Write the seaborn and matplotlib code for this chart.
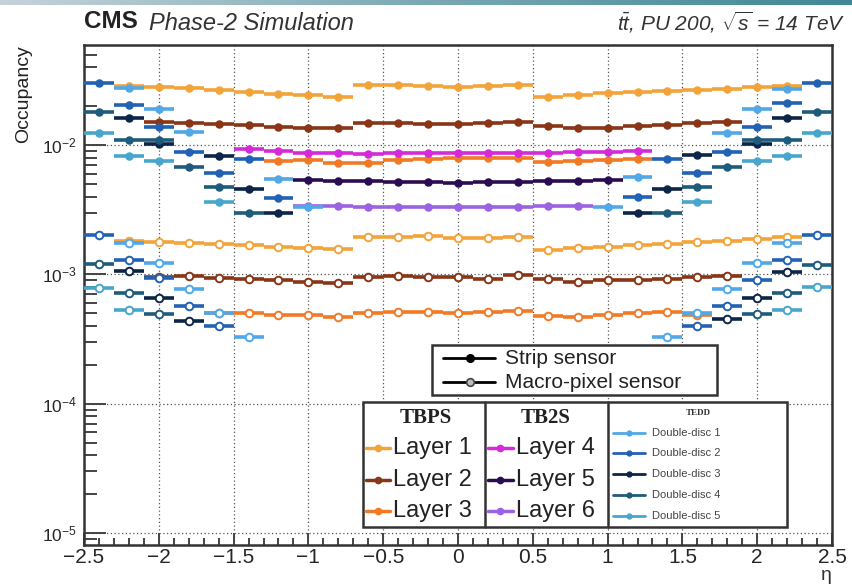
import numpy as np
import matplotlib
matplotlib.use("Agg")
import matplotlib.pyplot as plt
from matplotlib.ticker import FixedLocator, FuncFormatter, LogLocator, NullFormatter
from matplotlib.patches import Rectangle
from matplotlib.colors import LinearSegmentedColormap
import seaborn as sns

# ---------------- data ----------------
ETA_L1 = [-2.2, -2.0, -1.8, -1.6, -1.4, -1.2, -1.0, -0.8, -0.6, -0.4, -0.2, 0.0,
          0.2, 0.4, 0.6, 0.8, 1.0, 1.2, 1.4, 1.6, 1.8, 2.0, 2.2]
L1_STRIP = [0.0286, 0.0281, 0.0276, 0.0266, 0.0257, 0.0248, 0.0243, 0.0235,
            0.0291, 0.0291, 0.0286, 0.0281, 0.0286, 0.0291,
            0.0235, 0.0243, 0.0252, 0.0257, 0.0261, 0.0266, 0.0271, 0.0281, 0.0286]
L1_MACRO = [0.00180, 0.00178, 0.00175, 0.00172, 0.00169, 0.00163, 0.00160, 0.00157,
            0.00195, 0.00195, 0.00198, 0.00191, 0.00191, 0.00195,
            0.00155, 0.00160, 0.00163, 0.00169, 0.00172, 0.00178, 0.00181, 0.00188, 0.00195]

ETA_L2 = [-2.0, -1.8, -1.6, -1.4, -1.2, -1.0, -0.8, -0.6, -0.4, -0.2, 0.0,
          0.2, 0.4, 0.6, 0.8, 1.0, 1.2, 1.4, 1.6, 1.8]
L2_STRIP = [0.0151, 0.0148, 0.0145, 0.0143, 0.0138, 0.0135, 0.0135,
            0.0148, 0.0148, 0.0145, 0.0145, 0.0148, 0.0151,
            0.0140, 0.0135, 0.0135, 0.0140, 0.0143, 0.0148, 0.0151]
L2_MACRO = [0.00095, 0.00097, 0.00094, 0.00092, 0.00091, 0.00088, 0.00086,
            0.00095, 0.00097, 0.00095, 0.00095, 0.00092, 0.00099,
            0.00092, 0.00087, 0.00091, 0.00091, 0.00092, 0.00095, 0.00097]

ETA_L3_STRIP = [-1.2, -1.0, -0.8, -0.6, -0.4, -0.2, 0.0, 0.2, 0.4, 0.6, 0.8, 1.0, 1.2]
L3_STRIP = [0.0075, 0.0076, 0.0073, 0.0073, 0.0076, 0.0078, 0.0079, 0.0079, 0.0079,
            0.0074, 0.0075, 0.0077, 0.0078]
ETA_L3_MACRO = [-1.6, -1.4, -1.2, -1.0, -0.8, -0.6, -0.4, -0.2, 0.0, 0.2, 0.4,
                0.6, 0.8, 1.0, 1.2, 1.4, 1.6]
L3_MACRO = [0.000504, 0.000504, 0.000486, 0.000486, 0.000469, 0.000504, 0.000513,
            0.000513, 0.000504, 0.000513, 0.000522, 0.000477, 0.000469, 0.000486,
            0.000504, 0.000513, 0.000486]

ETA_L4 = [-1.4, -1.2, -1.0, -0.8, -0.6, -0.4, -0.2, 0.0, 0.2, 0.4, 0.6, 0.8, 1.0, 1.2]
L4_STRIP = [0.0093, 0.0090, 0.0087, 0.0086, 0.0085, 0.0086, 0.0086, 0.0086, 0.0087,
            0.0087, 0.0087, 0.0088, 0.0089, 0.0090]
ETA_L5 = [-1.0, -0.8, -0.6, -0.4, -0.2, 0.0, 0.2, 0.4, 0.6, 0.8, 1.0]
L5_STRIP = [0.0054, 0.0053, 0.0053, 0.0052, 0.0052, 0.0051, 0.0052, 0.0052, 0.0053,
            0.0053, 0.0054]
ETA_L6 = [-1.0, -0.8, -0.6, -0.4, -0.2, 0.0, 0.2, 0.4, 0.6, 0.8]
L6_STRIP = [0.0034, 0.0034, 0.0033, 0.0033, 0.0033, 0.0033, 0.0033, 0.0033, 0.0034, 0.0034]

# TEDD double discs, strip sensors
ETA_D1 = [-2.2, -2.0, -1.8, -1.2, -1.0, 1.0, 1.2, 1.8, 2.0, 2.2]
D1_STRIP = [0.0276, 0.019, 0.0126, 0.0055, 0.0033, 0.0033, 0.0057, 0.0124, 0.019, 0.027]
ETA_D2 = [-2.4, -2.2, -2.0, -1.8, -1.6, -1.4, -1.2, 1.2, 1.4, 1.6, 1.8, 2.0, 2.2, 2.4]
D2_STRIP = [0.030, 0.0204, 0.0138, 0.0088, 0.0061, 0.0078, 0.0039,
            0.0040, 0.0078, 0.0061, 0.0088, 0.0138, 0.021, 0.030]
ETA_D3 = [-2.2, -2.0, -1.6, -1.4, -1.2, 1.2, 1.4, 1.6, 2.0, 2.2]
D3_STRIP = [0.0162, 0.0102, 0.0082, 0.0046, 0.0030, 0.0030, 0.0046, 0.0084, 0.0102, 0.0162]
ETA_D4 = [-2.4, -2.2, -2.0, -1.8, -1.6, -1.4, 1.4, 1.6, 1.8, 2.0, 2.2, 2.4]
D4_STRIP = [0.018, 0.011, 0.011, 0.0068, 0.0047, 0.0030,
            0.0030, 0.0047, 0.0068, 0.011, 0.011, 0.018]
ETA_D5 = [-2.4, -2.2, -2.0, -1.6, 1.6, 2.0, 2.2, 2.4]
D5_STRIP = [0.0124, 0.0082, 0.0075, 0.0036, 0.0036, 0.0075, 0.0082, 0.0124]

# TEDD double discs, macro-pixel sensors
ETA_M1 = [-2.2, -2.0, -1.8, -1.6, -1.4, 1.4, 1.6, 1.8, 2.0, 2.2]
D1_MACRO = [0.00175, 0.00122, 0.00077, 0.00050, 0.00033,
            0.00033, 0.00050, 0.00077, 0.00122, 0.00175]
ETA_M2 = [-2.4, -2.2, -2.0, -1.8, -1.6, 1.6, 1.8, 2.0, 2.2, 2.4]
D2_MACRO = [0.0020, 0.0013, 0.00093, 0.00057, 0.00040,
            0.00040, 0.00057, 0.00090, 0.0013, 0.0020]
ETA_M3 = [-2.2, -2.0, -1.8, 1.8, 2.0, 2.2]
D3_MACRO = [0.00107, 0.00066, 0.00044, 0.00045, 0.00066, 0.00105]
ETA_M4 = [-2.4, -2.2, -2.0, 2.0, 2.2, 2.4]
D4_MACRO = [0.0012, 0.00072, 0.00049, 0.00049, 0.00072, 0.00118]
ETA_M5 = [-2.4, -2.2, 2.2, 2.4]
D5_MACRO = [0.00079, 0.00053, 0.00053, 0.0008]

LAYER_NAMES = ["Layer 1", "Layer 2", "Layer 3", "Layer 4", "Layer 5", "Layer 6"]
DISC_NAMES = ["Double-disc 1", "Double-disc 2", "Double-disc 3", "Double-disc 4", "Double-disc 5"]
X_TICKS = [-2.5, -2.0, -1.5, -1.0, -0.5, 0.0, 0.5, 1.0, 1.5, 2.0, 2.5]

C_LAYER = ["#f2a33a", "#8a3516", "#f07a26", "#d42ad8", "#2a0c52", "#9b62e2"]
C_DISC = ["#52a8e6", "#2262b4", "#0c2548", "#1f5c7c", "#48a6cc"]

# ---------------- style ----------------
sns.set_style("white")
plt.rcParams['font.family'] = ['Liberation Sans', 'DejaVu Sans']
plt.rcParams['mathtext.fontset'] = 'custom'
plt.rcParams['mathtext.rm'] = 'Liberation Sans'
plt.rcParams['mathtext.it'] = 'Liberation Sans:italic'
plt.rcParams['mathtext.bf'] = 'Liberation Sans:bold'

W, H = 852, 586
fig = plt.figure(figsize=(W / 100, H / 100), dpi=100)
fig.patch.set_facecolor('white')

ax = fig.add_axes([84 / W, 1 - 545 / H, 748 / W, 500 / H])
ax.set_yscale('log')
ax.set_xlim(-2.5, 2.5)
ax.set_ylim(8.1e-6, 0.0593)


def draw(eta, vals, color, filled, z):
    ax.errorbar(eta, vals, xerr=0.1, fmt='none', ecolor=color, elinewidth=2.6,
                capsize=0, zorder=z)
    sns.scatterplot(x=eta, y=vals, ax=ax, marker='o',
                    color=(color if filled else 'white'), edgecolor=color,
                    linewidth=1.4, s=(22 if filled else 30), zorder=z + 0.5,
                    legend=False)


# barrel layers
draw(ETA_L1, L1_STRIP, C_LAYER[0], True, 3)
draw(ETA_L2, L2_STRIP, C_LAYER[1], True, 3)
draw(ETA_L3_STRIP, L3_STRIP, C_LAYER[2], True, 3)
draw(ETA_L4, L4_STRIP, C_LAYER[3], True, 3)
draw(ETA_L5, L5_STRIP, C_LAYER[4], True, 3)
draw(ETA_L6, L6_STRIP, C_LAYER[5], True, 3)
draw(ETA_L1, L1_MACRO, C_LAYER[0], False, 3)
draw(ETA_L2, L2_MACRO, C_LAYER[1], False, 3)
draw(ETA_L3_MACRO, L3_MACRO, C_LAYER[2], False, 3)

# endcap discs
for e, v, c in zip([ETA_D1, ETA_D2, ETA_D3, ETA_D4, ETA_D5],
                   [D1_STRIP, D2_STRIP, D3_STRIP, D4_STRIP, D5_STRIP], C_DISC):
    draw(e, v, c, True, 5)
for e, v, c in zip([ETA_M1, ETA_M2, ETA_M3, ETA_M4, ETA_M5],
                   [D1_MACRO, D2_MACRO, D3_MACRO, D4_MACRO, D5_MACRO], C_DISC):
    draw(e, v, c, False, 5)

# axes styling
ax.xaxis.set_major_locator(FixedLocator(X_TICKS))
ax.xaxis.set_minor_locator(FixedLocator(np.round(np.arange(-2.5, 2.501, 0.1), 2)))
ax.xaxis.set_major_formatter(FuncFormatter(lambda v, p: ('%g' % v).replace('-', '\u2212')))
ax.yaxis.set_major_locator(LogLocator(base=10, numticks=20))
ax.yaxis.set_minor_locator(LogLocator(base=10, subs=np.arange(2, 10), numticks=20))
ax.yaxis.set_minor_formatter(NullFormatter())
ax.grid(True, which='major', linestyle=(0, (1, 2)), color='#555555', linewidth=0.9, zorder=0)
ax.set_axisbelow(True)
ax.tick_params(axis='both', which='both', direction='in', top=False, right=False,
               left=True, bottom=True, color='#444444', width=1.4)
ax.tick_params(axis='y', which='major', length=16, labelsize=12.5, pad=5)
ax.tick_params(axis='y', which='minor', length=9)
ax.tick_params(axis='x', which='major', length=9, labelsize=15, pad=2)
ax.tick_params(axis='x', which='minor', length=5)
for s in ax.spines.values():
    s.set_linewidth(1.8)
    s.set_color('#333333')
ax.set_ylabel('Occupancy', loc='top', fontsize=14, color='#222222', labelpad=7)
ax.set_xlabel('')

# header texts
fig.text(84 / W, 1 - 22 / H, 'CMS', fontsize=17.5, fontweight='bold', va='center',
         color='#222222')
fig.text(149 / W, 1 - 23 / H, 'Phase-2 Simulation', fontsize=17, style='italic',
         va='center', color='#333333')
fig.text(845 / W, 1 - 22 / H, r'$t\bar{t}$, PU 200, $\sqrt{s}$ = 14 TeV', fontsize=15,
         style='italic', ha='right', va='center', color='#333333')
fig.text(826 / W, 1 - 576 / H, '\u03b7', fontsize=14, ha='center', va='center',
         color='#333333')

# top decorative band
band = fig.add_axes([0, 1 - 5 / H, 1, 5 / H])
cmap = LinearSegmentedColormap.from_list('b', ['#c5d3d9', '#7aa9b3', '#3f8894'])
band.imshow(np.linspace(0, 1, 256)[None, :], aspect='auto', cmap=cmap)
band.axis('off')

# ---------------- legends (overlay in pixel coords) ----------------
ov = fig.add_axes([0, 0, 1, 1], zorder=10)
ov.set_xlim(0, W)
ov.set_ylim(H, 0)
ov.axis('off')
ov.patch.set_alpha(0)

# sensor legend
ov.add_patch(Rectangle((432, 345), 285, 50, facecolor='white', edgecolor='#333333', lw=1.8))
ov.plot([443, 495], [358, 358], color='black', lw=2)
ov.plot([470], [358], 'o', ms=5.5, color='black')
ov.text(505, 358, 'Strip sensor', fontsize=15, va='center', color='#222222')
ov.plot([443, 495], [382, 382], color='black', lw=2)
ov.plot([470], [382], 'o', ms=5.5, mfc='#bbbbbb', mec='#444444', mew=1.2)
ov.text(505, 382, 'Macro-pixel sensor', fontsize=15, va='center', color='#222222')

# detector legend
ov.add_patch(Rectangle((363, 402), 424, 125, facecolor='white', edgecolor='#333333', lw=1.8))
ov.plot([485, 485], [402, 527], color='#333333', lw=1.8)
ov.plot([608, 608], [402, 527], color='#333333', lw=1.8)
ov.text(426, 418, 'TBPS', fontsize=15, fontweight='bold', family='Liberation Serif',
        ha='center', va='center', color='#222222')
ov.text(546, 418, 'TB2S', fontsize=15, fontweight='bold', family='Liberation Serif',
        ha='center', va='center', color='#222222')
ov.text(698, 413, 'TEDD', fontsize=6.5, fontweight='bold', family='Liberation Serif',
        ha='center', va='center', color='#333333')
rows = [448, 480, 511]
for i in range(3):
    ov.plot([366, 390], [rows[i], rows[i]], color=C_LAYER[i], lw=2.5)
    ov.plot([378], [rows[i]], 'o', ms=4.5, color=C_LAYER[i])
    ov.text(393, rows[i], LAYER_NAMES[i], fontsize=17, va='center', color='#222222')
    ov.plot([488, 513], [rows[i], rows[i]], color=C_LAYER[i + 3], lw=2.5)
    ov.plot([500], [rows[i]], 'o', ms=4.5, color=C_LAYER[i + 3])
    ov.text(516, rows[i], LAYER_NAMES[i + 3], fontsize=17, va='center', color='#222222')
drows = [433, 453, 474, 495, 516]
for i in range(5):
    ov.plot([613, 645], [drows[i], drows[i]], color=C_DISC[i], lw=2)
    ov.plot([629], [drows[i]], 'o', ms=3.5, color=C_DISC[i])
    ov.text(652, drows[i], DISC_NAMES[i], fontsize=8, va='center', color='#444444')

fig.savefig('out.png', dpi=100)
